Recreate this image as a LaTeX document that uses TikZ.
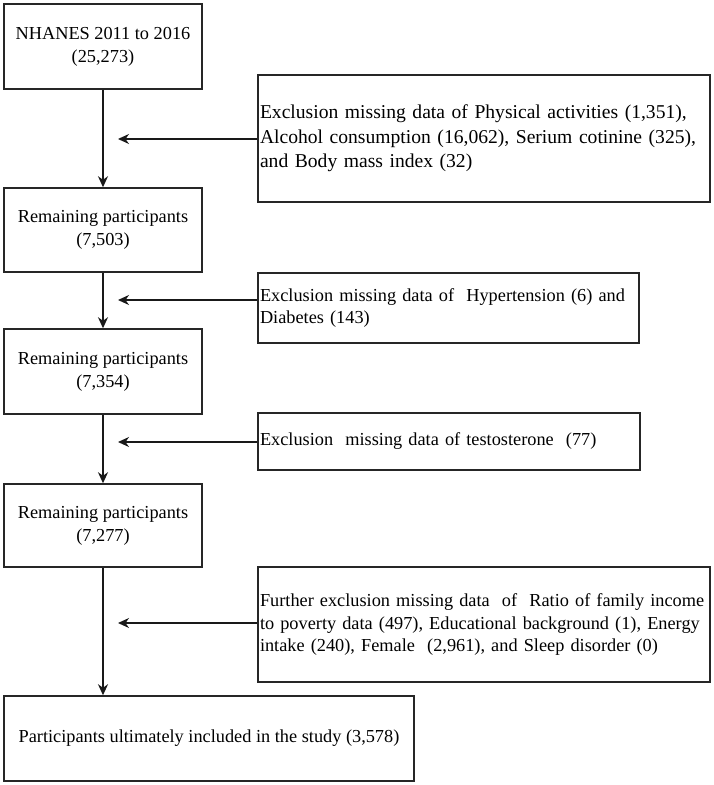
\documentclass[tikz,border=0pt]{standalone}
\usepackage{fontspec}
\setmainfont{Liberation Serif}
\usetikzlibrary{arrows.meta}

\begin{document}
\begin{tikzpicture}[x=1pt, y=-1pt,
    box/.style={draw=black!85, line width=1.5pt, align=center, inner sep=0pt,
        font=\fontsize{18.3}{23}\selectfont},
    exbox/.style={draw=black!85, line width=1.5pt, align=left, inner xsep=2pt, inner ysep=0pt,
        font=\fontsize{18.3}{22.5}\selectfont},
    arr/.style={draw=black!90, line width=1.5pt, -{Stealth[length=11pt, width=10pt, inset=3.5pt]}}]
    \useasboundingbox (0,0) rectangle (714,785);

    % main column
    \node[box, minimum width=198pt, minimum height=85pt] (nhanes) at (103,46.5)
        {NHANES 2011 to 2016\\(25,273)};
    \node[box, minimum width=198pt, minimum height=84pt] (rem1) at (103,230)
        {Remaining participants\\(7,503)};
    \node[box, minimum width=198pt, minimum height=85pt] (rem2) at (103,371.5)
        {Remaining participants\\(7,354)};
    \node[box, minimum width=198pt, minimum height=83pt] (rem3) at (103,525.5)
        {Remaining participants\\(7,277)};
    \node[box, minimum width=410pt, minimum height=85pt] (final) at (209,738.5)
        {Participants ultimately included in the study (3,578)};

    % exclusion boxes
    \node[exbox, text width=448pt, minimum height=127pt, font=\fontsize{19.6}{24.5}\selectfont] (ex1) at (484,138.5)
        {Exclusion missing data of Physical activities (1,351),\\
         Alcohol consumption (16,062), Serium cotinine (325),\\
         and Body mass index (32)};
    \node[exbox, text width=377pt, minimum height=70pt] (ex2) at (448.5,308)
        {Exclusion missing data of~ Hypertension (6) and\\Diabetes (143)};
    \node[exbox, text width=378pt, minimum height=57pt] (ex3) at (449,441.5)
        {Exclusion~ missing data of testosterone~ (77)};
    \node[exbox, text width=448pt, minimum height=115pt] (ex4) at (484,624.5)
        {Further exclusion missing data~ of~ Ratio of family income\\
         to poverty data (497), Educational background (1), Energy\\
         intake (240), Female~ (2,961), and Sleep disorder (0)};

    % arrow tips on the main line
    \coordinate (t1) at (118,139);
    \coordinate (t2) at (118,300);
    \coordinate (t3) at (118,442);
    \coordinate (t4) at (118,623);

    \draw[arr] (nhanes) -- (rem1);
    \draw[arr] (rem1) -- (rem2);
    \draw[arr] (rem2) -- (rem3);
    \draw[arr] (rem3.south) -- (rem3.south |- final.north);

    \draw[arr] (ex1.west |- t1) -- (t1);
    \draw[arr] (ex2.west |- t2) -- (t2);
    \draw[arr] (ex3.west |- t3) -- (t3);
    \draw[arr] (ex4.west |- t4) -- (t4);
\end{tikzpicture}
\end{document}
